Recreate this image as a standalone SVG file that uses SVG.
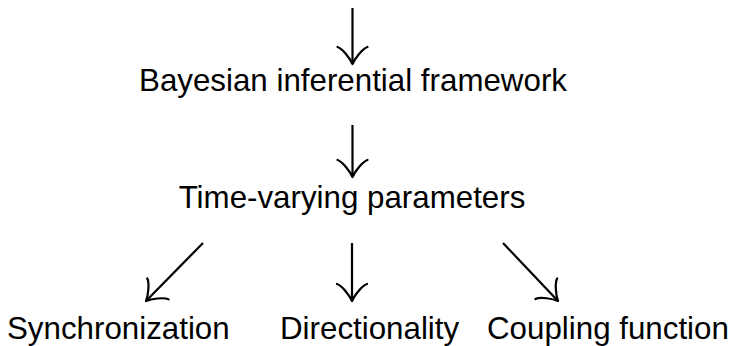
<svg xmlns="http://www.w3.org/2000/svg" width="735" height="346" viewBox="0 0 735 346">
<style>
.t{font-family:"Liberation Sans",Arial,sans-serif;font-size:31.3px;fill:#000}
.c{text-anchor:middle}
.e{stroke:#000;stroke-width:2.2;fill:none;marker-end:url(#to)}
</style>
<defs>
<marker id="to" markerUnits="userSpaceOnUse" markerWidth="40" markerHeight="40" viewBox="-20 -20 40 40" refX="0" refY="0" orient="auto" overflow="visible">
<path d="M-17,-15 C-15.5,-10 -5,-2 0,0 C-5,2 -15.5,10 -17,15" fill="none" stroke="#000" stroke-width="2.2" stroke-linecap="round" stroke-linejoin="round"/>
</marker>
</defs>
<rect width="735" height="346" fill="#fff"/>
<g id="connectors">
<line class="e" x1="352.5" y1="8" x2="352.5" y2="64"/>
<line class="e" x1="352.5" y1="125" x2="352.5" y2="177"/>
<line class="e" x1="203" y1="243" x2="146" y2="301"/>
<line class="e" x1="352" y1="243" x2="352" y2="301"/>
<line class="e" x1="503" y1="243" x2="558" y2="301"/>
</g>
<g id="bayes"><text class="t c" x="353" y="91">Bayesian inferential framework</text></g>
<g id="tvp"><text class="t c" x="352" y="208">Time-varying parameters</text></g>
<g id="sync"><text class="t" x="7" y="339">Synchronization</text></g>
<g id="dir"><text class="t" x="280" y="339">Directionality</text></g>
<g id="coup"><text class="t" x="487" y="339">Coupling function</text></g>
</svg>
